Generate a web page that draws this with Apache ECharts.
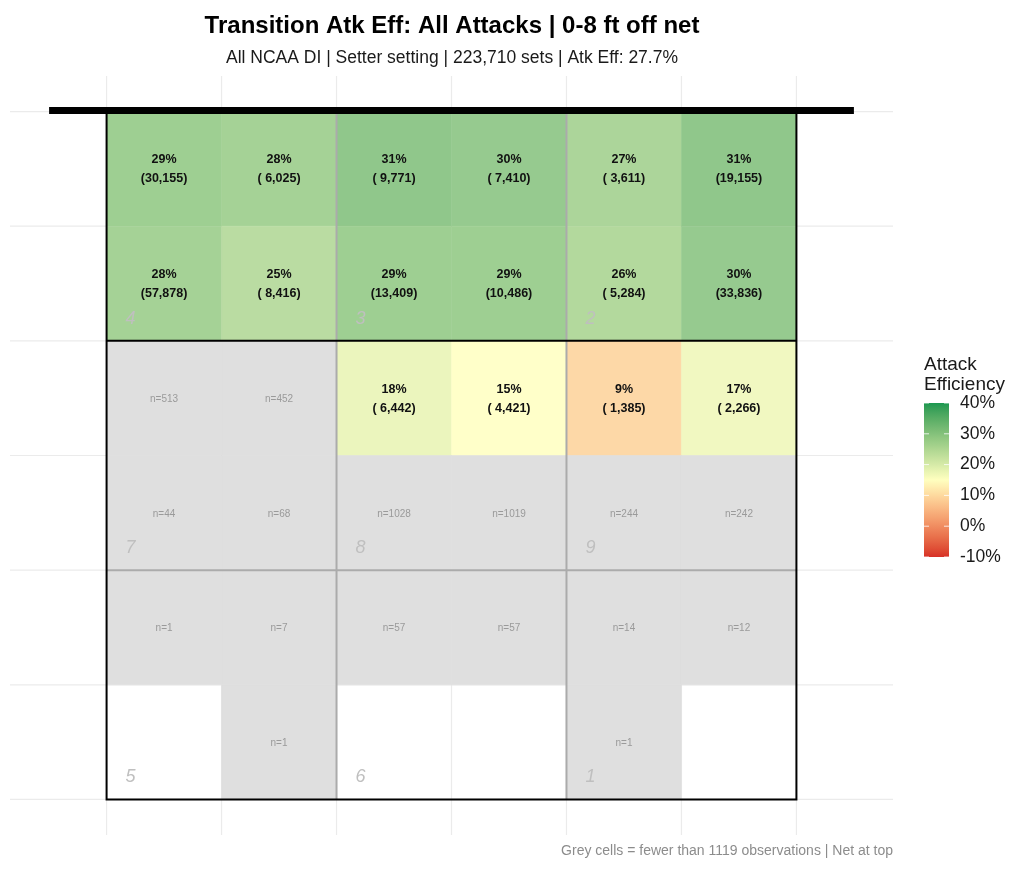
<!DOCTYPE html>
<html>
<head>
<meta charset="utf-8">
<title>Transition Atk Eff: All Attacks | 0-8 ft off net</title>
<script src="https://cdn.jsdelivr.net/npm/echarts@6/dist/echarts.min.js"></script>
<style>
  html, body { margin: 0; padding: 0; background: #fff; }
  #chart { width: 1024px; height: 875px; }
</style>
</head>
<body>
<div id="chart"></div>
<script>
// court = 6 x 6 cells, row 0 is at the net
var effPct = [
  [29, 28, 31, 30, 27, 31],
  [28, 25, 29, 29, 26, 30],
  [null, null, 18, 15, 9, 17],
  [null, null, null, null, null, null],
  [null, null, null, null, null, null],
  [null, null, null, null, null, null]
];
var setCount = [
  [30155, 6025, 9771, 7410, 3611, 19155],
  [57878, 8416, 13409, 10486, 5284, 33836],
  [513, 452, 6442, 4421, 1385, 2266],
  [44, 68, 1028, 1019, 244, 242],
  [1, 7, 57, 57, 14, 12],
  [0, 1, 0, 0, 1, 0]
];
var minObs = 1119;
var zoneNums = [[4, 3, 2], [7, 8, 9], [5, 6, 1]];
var gridBreaks = [0, 1, 2, 3, 4, 5, 6];
var legendBreaks = [-10, 0, 10, 20, 30, 40];

var titleText = 'Transition Atk Eff: All Attacks | 0-8 ft off net';
var subText = 'All NCAA DI | Setter setting | 223,710 sets | Atk Eff: 27.7%';
var captionText = 'Grey cells = fewer than ' + minObs + ' observations | Net at top';

var FONT = '"Liberation Sans", Arial, sans-serif';
var xMin = -0.84, xMax = 6.84, yMin = -0.31, yMax = 6.31;
var netY = -0.01;
var cellAlpha = 0.85;

// colour scale: red -> yellow -> green, interpolated in Lab (like ggplot)
var effLow = -10, effMid = 15, effHigh = 40;
var lowCol = '#d73027', midCol = '#ffffbf', highCol = '#1a9850';

function toLin(c) { c = c / 255; return c <= 0.04045 ? c / 12.92 : Math.pow((c + 0.055) / 1.055, 2.4); }
function fromLin(c) {
  c = c <= 0.0031308 ? 12.92 * c : 1.055 * Math.pow(c, 1 / 2.4) - 0.055;
  return Math.max(0, Math.min(255, Math.round(c * 255)));
}
function hexToLab(h) {
  var r = toLin(parseInt(h.substr(1, 2), 16));
  var g = toLin(parseInt(h.substr(3, 2), 16));
  var b = toLin(parseInt(h.substr(5, 2), 16));
  var x = (0.4124 * r + 0.3576 * g + 0.1805 * b) / 0.95047;
  var y = 0.2126 * r + 0.7152 * g + 0.0722 * b;
  var z = (0.0193 * r + 0.1192 * g + 0.9505 * b) / 1.08883;
  function f(t) { return t > 0.008856 ? Math.cbrt(t) : 7.787 * t + 16 / 116; }
  return [116 * f(y) - 16, 500 * (f(x) - f(y)), 200 * (f(y) - f(z))];
}
function labToRgb(L) {
  var fy = (L[0] + 16) / 116, fx = fy + L[1] / 500, fz = fy - L[2] / 200;
  function fi(t) { return t * t * t > 0.008856 ? t * t * t : (t - 16 / 116) / 7.787; }
  var x = fi(fx) * 0.95047, y = fi(fy), z = fi(fz) * 1.08883;
  var r = 3.2406 * x - 1.5372 * y - 0.4986 * z;
  var g = -0.9689 * x + 1.8758 * y + 0.0415 * z;
  var b = 0.0557 * x - 0.2040 * y + 1.0570 * z;
  return [fromLin(r), fromLin(g), fromLin(b)];
}
var labLow = hexToLab(lowCol), labMid = hexToLab(midCol), labHigh = hexToLab(highCol);
function scaleColor(v) {
  var a, b, t;
  if (v <= effMid) { a = labLow; b = labMid; t = (v - effLow) / (effMid - effLow); }
  else { a = labMid; b = labHigh; t = (v - effMid) / (effHigh - effMid); }
  return labToRgb([a[0] + (b[0] - a[0]) * t, a[1] + (b[1] - a[1]) * t, a[2] + (b[2] - a[2]) * t]);
}
function rgbStr(c) { return 'rgb(' + c[0] + ',' + c[1] + ',' + c[2] + ')'; }
// cells are drawn semi-transparent over white, legend is full colour
function overWhite(c) {
  return c.map(function (ch) { return Math.round(ch * cellAlpha + 255 * (1 - cellAlpha)); });
}
var paletteColors = [], cellColors = [];
for (var v = effLow; v <= effHigh; v++) {
  var c = scaleColor(v);
  paletteColors.push(rgbStr(c));
  cellColors.push(rgbStr(overWhite(c)));
}

// build the cell lists
var cellData = [], greyData = [];
setCount.forEach(function (row, r) {
  row.forEach(function (n, c) {
    if (n >= minObs) cellData.push([c, r, effPct[r][c], n]);
    else if (n > 0) greyData.push([c, r, n]);
  });
});
var zoneData = [];
zoneNums.forEach(function (row, zr) {
  row.forEach(function (z, zc) { zoneData.push([z, zc * 2, zr * 2 + 2]); });
});

function fmtCount(n) {
  var s = n.toLocaleString('en-US');
  while (s.length < 6) s = ' ' + s;
  return '(' + s + ')';
}

function cellRect(api) {
  var p0 = api.coord([api.value(0), api.value(1)]);
  var p1 = api.coord([api.value(0) + 1, api.value(1) + 1]);
  return { x: p0[0], y: p0[1], width: p1[0] - p0[0], height: p1[1] - p0[1] };
}

function renderGrid(params, api) {
  var b = api.value(0);
  var v0 = api.coord([b, yMin]), v1 = api.coord([b, yMax]);
  var h0 = api.coord([xMin, b]), h1 = api.coord([xMax, b]);
  var st = { stroke: '#ebebeb', lineWidth: 1.2 };
  return {
    type: 'group', children: [
      { type: 'line', shape: { x1: v0[0], y1: v0[1], x2: v1[0], y2: v1[1] }, style: st },
      { type: 'line', shape: { x1: h0[0], y1: h0[1], x2: h1[0], y2: h1[1] }, style: st }
    ]
  };
}

function renderCell(params, api) {
  var s = cellRect(api);
  var col = api.visual('color');
  return {
    type: 'group', children: [
      { type: 'rect', shape: s, style: { fill: col, stroke: col, lineWidth: 0.5 } },
      {
        type: 'text',
        style: {
          text: api.value(2) + '%\n' + fmtCount(api.value(3)),
          x: s.x + s.width / 2, y: s.y + s.height / 2 + 0.5,
          align: 'center', verticalAlign: 'middle',
          font: 'bold 12.5px ' + FONT, fill: '#111', lineHeight: 19
        }
      }
    ]
  };
}

function renderGrey(params, api) {
  var s = cellRect(api);
  return {
    type: 'group', children: [
      { type: 'rect', shape: s, style: { fill: '#dfdfdf', stroke: '#dfdfdf', lineWidth: 0.5 } },
      {
        type: 'text',
        style: {
          text: 'n=' + api.value(2),
          x: s.x + s.width / 2, y: s.y + s.height / 2 + 1,
          align: 'center', verticalAlign: 'middle',
          font: '10px ' + FONT, fill: '#9a9a9a'
        }
      }
    ]
  };
}

function renderCourt(params, api) {
  function seg(a, b, color, w) {
    var p = api.coord(a), q = api.coord(b);
    return { type: 'line', shape: { x1: p[0], y1: p[1], x2: q[0], y2: q[1] }, style: { stroke: color, lineWidth: w } };
  }
  var tl = api.coord([0, 0]), br = api.coord([6, 6]);
  return {
    type: 'group', children: [
      seg([2, 0], [2, 6], '#ababab', 2),
      seg([4, 0], [4, 6], '#ababab', 2),
      seg([0, 4], [6, 4], '#ababab', 2),
      seg([0, 2], [6, 2], '#000', 2),
      { type: 'rect', shape: { x: tl[0], y: tl[1], width: br[0] - tl[0], height: br[1] - tl[1] }, style: { fill: null, stroke: '#000', lineWidth: 2 } },
      seg([-0.5, netY], [6.5, netY], '#000', 7)
    ]
  };
}

function renderZone(params, api) {
  var p = api.coord([api.value(1), api.value(2)]);
  return {
    type: 'text',
    style: {
      text: String(api.value(0)), x: p[0] + 24, y: p[1] - 22,
      align: 'center', verticalAlign: 'middle',
      font: 'italic 18px ' + FONT, fill: '#bfbfbf'
    }
  };
}

// colour bar with white tick marks on both edges
function renderBar(params, api) {
  var p0 = api.coord([0, effHigh]), p1 = api.coord([1, effLow]);
  var stops = [];
  for (var i = paletteColors.length - 1; i >= 0; i--) {
    stops.push({ offset: (paletteColors.length - 1 - i) / (paletteColors.length - 1), color: paletteColors[i] });
  }
  var kids = [{
    type: 'rect',
    shape: { x: p0[0], y: p0[1], width: p1[0] - p0[0], height: p1[1] - p0[1] },
    style: { fill: new echarts.graphic.LinearGradient(0, 0, 0, 1, stops) }
  }];
  legendBreaks.forEach(function (b) {
    var l = api.coord([0, b]), r = api.coord([1, b]);
    var st = { stroke: 'rgba(255,255,255,0.8)', lineWidth: 1 };
    kids.push({ type: 'line', shape: { x1: l[0], y1: l[1], x2: l[0] + 5, y2: l[1] }, style: st });
    kids.push({ type: 'line', shape: { x1: r[0] - 5, y1: r[1], x2: r[0], y2: r[1] }, style: st });
  });
  return { type: 'group', children: kids };
}

var chart = echarts.init(document.getElementById('chart'), null, { renderer: 'canvas' });

var option = {
  backgroundColor: '#fff',
  animation: false,
  grid: [
    { left: 10, right: 131, top: 76, bottom: 40 },
    { left: 924, top: 403, width: 25, height: 154 }
  ],
  xAxis: [
    { type: 'value', min: xMin, max: xMax, show: false },
    { type: 'value', gridIndex: 1, min: 0, max: 1, show: false }
  ],
  yAxis: [
    { type: 'value', min: yMin, max: yMax, inverse: true, show: false },
    {
      gridIndex: 1, type: 'value', position: 'right',
      min: legendBreaks[0], max: legendBreaks[legendBreaks.length - 1], interval: 10,
      axisLine: { show: false }, axisTick: { show: false }, splitLine: { show: false },
      axisLabel: { formatter: '{value}%', margin: 11, fontSize: 17.5, color: '#1a1a1a', fontFamily: FONT }
    }
  ],
  visualMap: {
    type: 'continuous', show: false, seriesIndex: 1, dimension: 2,
    min: effLow, max: effHigh, inRange: { color: cellColors }
  },
  series: [
    { type: 'custom', z: 1, silent: true, renderItem: renderGrid, data: gridBreaks.map(function (b) { return [b]; }) },
    { type: 'custom', z: 2, silent: true, renderItem: renderCell, data: cellData },
    { type: 'custom', z: 2, silent: true, renderItem: renderGrey, data: greyData },
    { type: 'custom', z: 3, silent: true, renderItem: renderCourt, data: [[0]] },
    { type: 'custom', z: 4, silent: true, renderItem: renderZone, data: zoneData },
    { type: 'custom', z: 2, silent: true, xAxisIndex: 1, yAxisIndex: 1, renderItem: renderBar, data: [[0]] }
  ],
  graphic: [
    { type: 'text', silent: true, style: { text: titleText, x: 452, y: 26, align: 'center', verticalAlign: 'middle', textAlign: 'center', textVerticalAlign: 'middle', font: 'bold 24px ' + FONT, fill: '#000' } },
    { type: 'text', silent: true, style: { text: subText, x: 452, y: 58, align: 'center', verticalAlign: 'middle', textAlign: 'center', textVerticalAlign: 'middle', font: '17.5px ' + FONT, fill: '#1a1a1a' } },
    { type: 'text', silent: true, style: { text: 'Attack\nEfficiency', x: 924, y: 375, align: 'left', verticalAlign: 'middle', textAlign: 'left', textVerticalAlign: 'middle', font: '19px ' + FONT, fill: '#1a1a1a', lineHeight: 20 } },
    { type: 'text', silent: true, style: { text: captionText, x: 893, y: 851, align: 'right', verticalAlign: 'middle', textAlign: 'right', textVerticalAlign: 'middle', font: '14px ' + FONT, fill: '#8c8c8c' } }
  ]
};

chart.setOption(option);
</script>
</body>
</html>
